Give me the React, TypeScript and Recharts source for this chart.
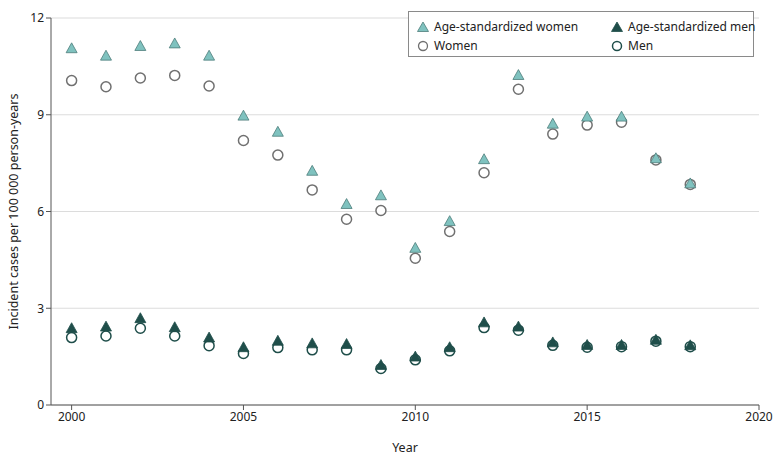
import { ScatterChart, Scatter, XAxis, YAxis, CartesianGrid } from "recharts";

const years = [2000, 2001, 2002, 2003, 2004, 2005, 2006, 2007, 2008, 2009, 2010, 2011, 2012, 2013, 2014, 2015, 2016, 2017, 2018];

const ageStdWomen = [11.06, 10.83, 11.13, 11.21, 10.83, 8.97, 8.47, 7.26, 6.23, 6.5, 4.87, 5.7, 7.62, 10.23, 8.72, 8.94, 8.94, 7.65, 6.87];
const women = [10.06, 9.87, 10.14, 10.22, 9.89, 8.2, 7.75, 6.67, 5.76, 6.03, 4.55, 5.38, 7.2, 9.79, 8.4, 8.68, 8.77, 7.6, 6.84];
const ageStdMen = [2.38, 2.43, 2.69, 2.41, 2.09, 1.79, 1.99, 1.91, 1.89, 1.24, 1.5, 1.79, 2.56, 2.43, 1.94, 1.86, 1.86, 2.02, 1.85];
const men = [2.09, 2.14, 2.38, 2.14, 1.84, 1.6, 1.78, 1.71, 1.71, 1.13, 1.4, 1.68, 2.4, 2.32, 1.85, 1.79, 1.81, 1.98, 1.81];

const xTicks = [2000, 2005, 2010, 2015, 2020];
const yTicks = [0, 3, 6, 9, 12];

const FONT = "'Noto Sans', sans-serif";
const LIGHT_TEAL = "#7fc2bf";
const LIGHT_TEAL_STROKE = "#4d7c7a";
const DARK_TEAL = "#1f4e4a";
const GRAY = "#707070";

const toPoints = (vals: number[]) => years.map((year, i) => ({ year, value: vals[i] }));

function triangle(fill: string, stroke: string) {
  // eslint-disable-next-line @typescript-eslint/no-explicit-any
  return (props: any) => {
    const { cx, cy } = props;
    const s = 5.5;
    return (
      <path
        d={`M${cx},${cy - s} L${cx + s},${cy + s * 0.8} L${cx - s},${cy + s * 0.8} Z`}
        fill={fill}
        stroke={stroke}
        strokeWidth={0.8}
      />
    );
  };
}

function ring(stroke: string) {
  // eslint-disable-next-line @typescript-eslint/no-explicit-any
  return (props: any) => <circle cx={props.cx} cy={props.cy} r={5} fill="#fff" stroke={stroke} strokeWidth={1.5} />;
}

function LegendBox() {
  const item = (sym: React.ReactNode, label: string) => (
    <div style={{ display: "flex", alignItems: "center", gap: 5, height: 18, whiteSpace: "nowrap" }}>
      <svg width={12} height={12} style={{ flexShrink: 0 }}>{sym}</svg>
      <span>{label}</span>
    </div>
  );
  return (
    <div
      style={{
        position: "absolute",
        left: 408,
        top: 11,
        border: "1px solid #8a8a8a",
        background: "#fff",
        width: 346,
        height: 46,
        boxSizing: "border-box",
        padding: "6px 0 0 8px",
        display: "grid",
        gridTemplateColumns: "194px 142px",
        fontFamily: FONT,
        fontSize: 12,
        color: "#222",
        lineHeight: "18px",
      }}
    >
      {item(<path d="M6,1 L11.5,10.5 L0.5,10.5 Z" fill={LIGHT_TEAL} stroke={LIGHT_TEAL_STROKE} strokeWidth={0.8} />, "Age-standardized women")}
      {item(<path d="M6,1 L11.5,10.5 L0.5,10.5 Z" fill={DARK_TEAL} stroke={DARK_TEAL} strokeWidth={0.8} />, "Age-standardized men")}
      {item(<circle cx={6} cy={6} r={4.5} fill="#fff" stroke={GRAY} strokeWidth={1.3} />, "Women")}
      {item(<circle cx={6} cy={6} r={4.5} fill="#fff" stroke={DARK_TEAL} strokeWidth={1.5} />, "Men")}
    </div>
  );
}

export default function App() {
  return (
    <div style={{ position: "absolute", left: 0, top: 0, width: 780, height: 459, background: "#fff" }}>
      <ScatterChart width={780} height={459} margin={{ top: 18, right: 21, bottom: 24, left: 0 }}>
        <CartesianGrid vertical={false} stroke="#dcdcdc" strokeWidth={1.2} />
        <XAxis
          type="number"
          dataKey="year"
          domain={[1999.4, 2020]}
          ticks={xTicks}
          height={30}
          tick={{ fill: "#222", fontSize: 12, fontFamily: FONT }}
          tickSize={5}
          stroke="#555"
          label={{ value: "Year", position: "insideBottom", offset: -17, fill: "#222", fontSize: 12.5, fontFamily: FONT }}
        />
        <YAxis
          type="number"
          dataKey="value"
          domain={[0, 12]}
          ticks={yTicks}
          width={51}
          tick={{ fill: "#222", fontSize: 12, fontFamily: FONT }}
          tickSize={5}
          stroke="#555"
          label={{
            value: "Incident cases per 100 000 person-years",
            angle: -90,
            position: "insideLeft",
            offset: 14,
            style: { textAnchor: "middle" },
            fill: "#222",
            fontSize: 12.5,
            fontFamily: FONT,
          }}
        />
        <Scatter name="Women" data={toPoints(women)} shape={ring(GRAY)} isAnimationActive={false} />
        <Scatter name="Men" data={toPoints(men)} shape={ring(DARK_TEAL)} isAnimationActive={false} />
        <Scatter name="Age-standardized women" data={toPoints(ageStdWomen)} shape={triangle(LIGHT_TEAL, LIGHT_TEAL_STROKE)} isAnimationActive={false} />
        <Scatter name="Age-standardized men" data={toPoints(ageStdMen)} shape={triangle(DARK_TEAL, DARK_TEAL)} isAnimationActive={false} />
      </ScatterChart>
      <LegendBox />
    </div>
  );
}
